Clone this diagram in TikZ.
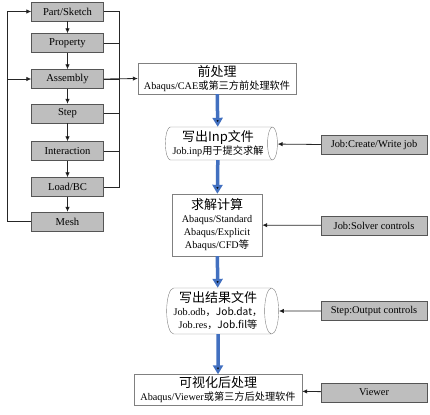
\documentclass[tikz,border=0pt]{standalone}
\usepackage{fontspec}
\setmainfont{Liberation Serif}
\newfontfamily\cjk{Noto Sans CJK SC}
\usetikzlibrary{positioning,shapes.geometric,arrows.meta}
\definecolor{boxgray}{RGB}{190,190,190}
\definecolor{edgegray}{RGB}{85,85,85}
\definecolor{flowblue}{RGB}{66,112,192}
\newcommand{\hd}{\fontsize{13}{16}\selectfont}
\tikzset{
mb/.style={rectangle,draw=edgegray,fill=boxgray,minimum width=72pt,minimum height=19pt,inner sep=0pt,font=\fontsize{10.6}{12}\selectfont},
jb/.style={rectangle,draw=edgegray,fill=boxgray,minimum width=106pt,minimum height=19pt,inner sep=0pt,font=\fontsize{10.4}{12}\selectfont},
wb/.style={rectangle,draw=gray,fill=white,align=center,inner sep=1pt,font=\fontsize{10.2}{13}\selectfont},
cy/.style={cylinder,draw=gray,fill=white,align=center,shape aspect=0.35,inner sep=1pt,minimum height=112pt,font=\fontsize{10.2}{13}\selectfont},
ln/.style={draw=black!85,line width=0.8pt},
ar/.style={ln,-{Latex[length=5pt,width=4.5pt]}},
ba/.style={draw=flowblue,line width=3.5pt,-{Triangle[length=9pt,width=10pt]}},
}
\begin{document}
\begin{tikzpicture}[x=1pt,y=-1pt]
\useasboundingbox (0,0) rectangle (430,414);
% modules of the pre-processor
\node[mb] (part) at (67.5,11.5) {Part/Sketch};
\node[mb] (prop) at (67.5,43) {Property};
\node[mb] (asm) at (67.5,79) {Assembly};
\node[mb] (step) at (67.5,113.5) {Step};
\node[mb] (inter) at (67.5,151) {Interaction};
\node[mb] (load) at (67.5,187) {Load/BC};
\node[mb] (mesh) at (67.5,221.5) {Mesh};
\coordinate (lt) at (7,11.5);
\coordinate (lb) at (7,221.5);
\coordinate (rt) at (119,11.5);
\coordinate (rb) at (119,187);

\path[ar]
(part) edge (prop)
(prop) edge (asm)
(asm) edge (step)
(step) edge (inter)
(inter) edge (load)
(load) edge (mesh)
;
\draw[ar] (mesh.west) -- (lb) -- (lt) -- (part.west);
\draw[ar] (lb |- asm) -- (asm.west);
\draw[ln] (part.east) -- (rt) -- (rb) -- (load.east);
\foreach \m in {prop,asm,step,inter}
  \draw[ln] (\m.east) -- (\m -| rt);

% main flow
\node[wb,minimum width=158pt,minimum height=31pt] (pre) at (217,78.5)
  {{\hd\cjk{前处理}}\\Abaqus/CAE\cjk{或第三方前处理软件}};
\node[cy,minimum width=33pt] (inp) at (218,143.5)
  {{\hd\cjk{写出}Inp\cjk{文件}}\\Job.inp\cjk{用于提交求解}};
\node[wb,minimum width=90pt,minimum height=62pt] (solve) at (217,225)
  {{\hd\cjk{求解计算}}\\Abaqus/Standard\\Abaqus/Explicit\\Abaqus/CFD\cjk{等}};
\node[cy,minimum width=46pt] (res) at (218,311)
  {{\hd\cjk{写出结果文件}}\\Job.odb\cjk{，}Job.dat\cjk{，}\\Job.res\cjk{，}Job.fil\cjk{等}};
\node[wb,minimum width=168pt,minimum height=31pt] (post) at (218,390)
  {{\hd\cjk{可视化后处理}}\\Abaqus/Viewer\cjk{或第三方后处理软件}};

\draw[ar] (asm.east) -- (pre.west);
\path[ba]
(pre) edge (inp)
(inp) edge (solve)
(solve) edge (res)
(res) edge (post)
;

% job controls
\node[jb] (jcw) at (374,145) {Job:Create/Write job};
\node[jb] (jsc) at (374,225.5) {Job:Solver controls};
\node[jb] (soc) at (374,311) {Step:Output controls};
\node[jb] (view) at (374,392.5) {Viewer};

\path[ar]
(jcw) edge (inp)
(jsc) edge (solve)
(soc) edge (res)
(view) edge (post)
;
\end{tikzpicture}
\end{document}
